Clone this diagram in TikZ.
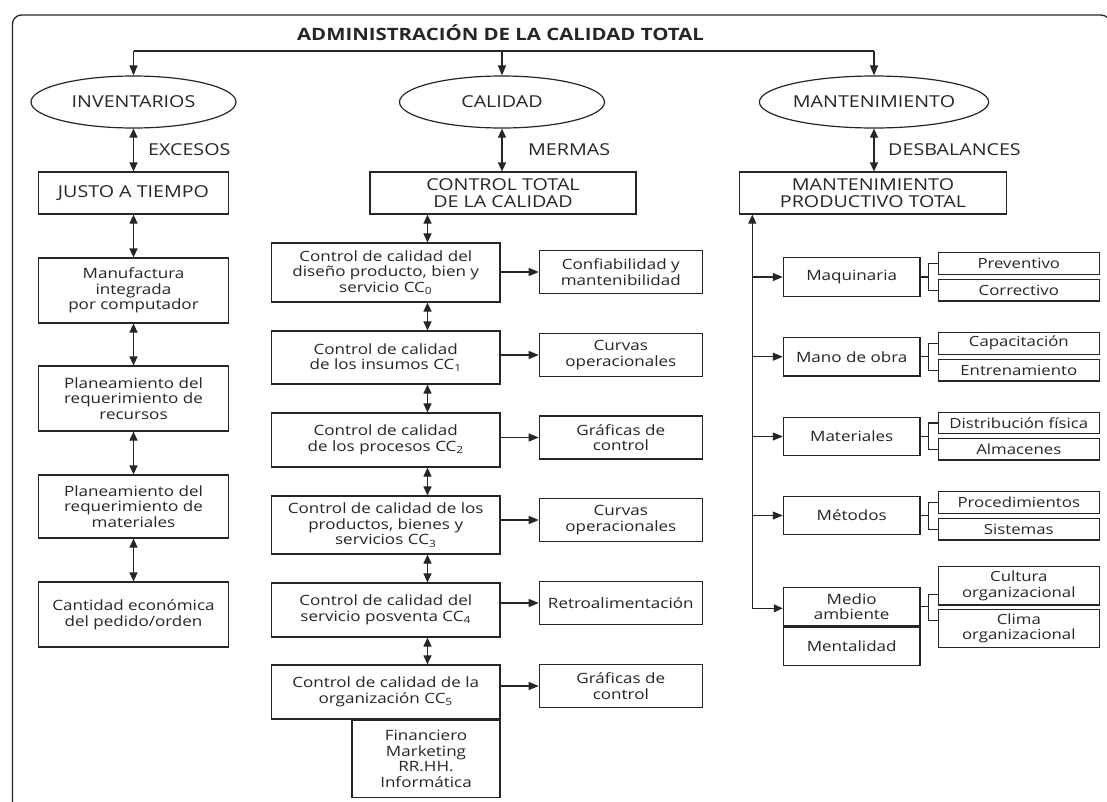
\documentclass[tikz,border=0pt]{standalone}
\usepackage{fontspec}
\setmainfont{Open Sans}[FakeStretch=1.2]
\usetikzlibrary{shapes.geometric,arrows.meta,calc}
\definecolor{ink}{RGB}{38,38,38}
\newcommand\bodyfont{\fontsize{14.2}{15.6}\selectfont}
\newcommand\capsfont{\fontsize{16.4}{17.5}\selectfont}
\newcommand\subfont{\fontsize{14}{15.2}\selectfont}
\newcommand\titlefont{\fontsize{17}{18}\selectfont\bfseries}
\tikzset{
  box/.style={draw=ink, line width=1.2pt, rectangle, inner sep=0pt, align=center, text=ink, font=\bodyfont},
  sz/.style 2 args={minimum width=#1, minimum height=#2},
  oval/.style={draw=ink, line width=1.2pt, ellipse, inner sep=0pt, minimum width=205pt, minimum height=52pt, font=\capsfont, text=ink},
  lbl/.style={inner sep=0pt, text=ink, font=\capsfont},
  link/.style={draw=ink, line width=1.2pt},
  tip/.style={-{Triangle[length=10pt,width=8pt]}},
  both/.style={{Triangle[length=9pt,width=8pt]}-{Triangle[length=9pt,width=8pt]}},
}
\begin{document}
\begin{tikzpicture}[x=1pt,y=-1pt]
\useasboundingbox (0,0) rectangle (1107,801);
\fill[white] (0,0) rectangle (1107,801);

% outer frame
\draw[ink, line width=1.3pt, rounded corners=9pt] (12.5,815) -- (12.5,15) -- (1110,15) -- (1110,815);

% title and top distribution line
\node[text=ink, font=\titlefont, inner sep=0pt] (title) at (500.5,33) {ADMINISTRACIÓN DE LA CALIDAD TOTAL};
\coordinate (tl) at (133.5,51);
\coordinate (tr) at (874,51);

% the three pillars
\node[oval] (inv) at (133.5,102) {INVENTARIOS};
\node[oval] (cal) at (502,102) {CALIDAD};
\node[oval] (man) at (874,102) {MANTENIMIENTO};

\draw[link] (tl) -- (tr);
\draw[link,tip] (tl) -- (inv.north);
\draw[link,tip] (cal.north |- tl) -- (cal.north);
\draw[link,tip] (tr) -- (man.north);

% first row of systems
\node[box, sz={190}{42}, font=\capsfont] (jat) at (133.5,193) {JUSTO A TIEMPO};
\node[box, sz={266}{42}, font=\capsfont] (ctc) at (503,193) {CONTROL TOTAL\\DE LA CALIDAD};
\node[box, sz={266.5}{42}, font=\capsfont] (mpt) at (873,193) {MANTENIMIENTO\\PRODUCTIVO TOTAL};

\draw[link,both] (inv.south) -- (jat.north);
\draw[link,both] (cal.south) -- (cal.south |- ctc.north);
\draw[link,both] (man.south) -- (man.south |- mpt.north);
\node[lbl, anchor=west] (exc) at (148,150) {EXCESOS};
\node[lbl, anchor=west] (mer) at (528,150) {MERMAS};
\node[lbl, anchor=west] (des) at (888,150) {DESBALANCES};

% inventory column
\node[box, sz={190}{65}] (mic) at (133.5,290.5) {Manufactura\\integrada\\por computador};
\node[box, sz={190}{65}] (prr) at (133.5,398.5) {Planeamiento del\\requerimiento de\\recursos};
\node[box, sz={190}{63}] (prm) at (133.5,506.5) {Planeamiento del\\requerimiento de\\materiales};
\node[box, sz={190}{65}] (cep) at (133.5,614.5) {Cantidad económica\\del pedido/orden};
\draw[link,both] (jat.south) -- (mic.north);
\draw[link,both] (mic.south) -- (prr.north);
\draw[link,both] (prr.south) -- (prm.north);
\draw[link,both] (prm.south) -- (cep.north);

% quality column
\node[box, sz={228.6}{59}] (cc0) at (385.7,272.5) {Control de calidad del\\diseño producto, bien y\\servicio CC\textsubscript{0}};
\node[box, sz={228.6}{53}] (cc1) at (385.7,357.5) {Control de calidad\\de los insumos CC\textsubscript{1}};
\node[box, sz={228.6}{54}] (cc2) at (385.7,440) {Control de calidad\\de los procesos CC\textsubscript{2}};
\node[box, sz={228.6}{58}] (cc3) at (385.7,525) {Control de calidad de los\\productos, bienes y\\servicios CC\textsubscript{3}};
\node[box, sz={228.6}{54}] (cc4) at (385.7,610) {Control de calidad del\\servicio posventa CC\textsubscript{4}};
\node[box, sz={228.6}{54}] (cc5) at (385.7,692) {Control de calidad de la\\organización CC\textsubscript{5}};
\node[box, sz={148}{77}, anchor=north east] (fin) at (cc5.south east) {Financiero\\Marketing\\RR.HH.\\Informática};

\coordinate (mx) at (427.5,0);
\draw[link,both] (ctc.south -| mx) -- (cc0.north -| mx);
\draw[link,both] (cc0.south -| mx) -- (cc1.north -| mx);
\draw[link,both] (cc1.south -| mx) -- (cc2.north -| mx);
\draw[link,both] (cc2.south -| mx) -- (cc3.north -| mx);
\draw[link,both] (cc3.south -| mx) -- (cc4.north -| mx);
\draw[link,both] (cc4.south -| mx) -- (cc5.north -| mx);

\node[box, sz={163}{43}] (q0) at (620.8,272) {Confiabilidad y\\mantenibilidad};
\node[box, sz={163}{43}] (q1) at (620.8,355) {Curvas\\operacionales};
\node[box, sz={163}{43}] (q2) at (620.8,437.5) {Gráficas de\\control};
\node[box, sz={163}{43}] (q3) at (620.8,520) {Curvas\\operacionales};
\node[box, sz={163}{43}] (q4) at (620.8,603) {Retroalimentación};
\node[box, sz={163}{43}] (q5) at (620.8,686) {Gráficas de\\control};
\draw[link,tip] (cc0.east |- q0.west) -- (q0.west);
\draw[link,tip] (cc1.east |- q1.west) -- (q1.west);
\draw[link,tip] (cc2.east |- q2.west) -- (q2.west);
\draw[link,tip] (cc3.east |- q3.west) -- (q3.west);
\draw[link,tip] (cc4.east |- q4.west) -- (q4.west);
\draw[link,tip] (cc5.east |- q5.west) -- (q5.west);

% maintenance column
\node[box, sz={136.7}{39}] (maq) at (851.7,277) {Maquinaria};
\node[box, sz={136.7}{38.7}] (mob) at (851.7,356.7) {Mano de obra};
\node[box, sz={136.7}{38.4}] (mat) at (851.7,436.5) {Materiales};
\node[box, sz={136.7}{37.6}] (met) at (851.7,515.5) {Métodos};
\node[box, sz={136.7}{38.7}] (med) at (851.7,606.7) {Medio\\ambiente};
\node[box, sz={136.7}{38}, anchor=north] (men) at (med.south) {Mentalidad};

\node[box, font=\subfont, sz={161}{21.6}] (prev) at (1018.8,263.5) {Preventivo};
\node[box, font=\subfont, sz={161}{21.6}] (corr) at (1018.8,290.2) {Correctivo};
\node[box, font=\subfont, sz={161}{21.6}] (capa) at (1018.8,343.3) {Capacitación};
\node[box, font=\subfont, sz={161}{21.6}] (entr) at (1018.8,370.2) {Entrenamiento};
\node[box, font=\subfont, sz={161}{21.6}] (dist) at (1018.8,422.9) {Distribución física};
\node[box, font=\subfont, sz={161}{21.6}] (alma) at (1018.8,449.2) {Almacenes};
\node[box, font=\subfont, sz={161}{21.6}] (proc) at (1018.8,502.5) {Procedimientos};
\node[box, font=\subfont, sz={161}{21.6}] (sist) at (1018.8,529.2) {Sistemas};
\node[box, font=\subfont, sz={161}{38.3}] (cult) at (1018.8,585.8) {Cultura\\organizacional};
\node[box, font=\subfont, sz={161}{38.4}] (clim) at (1018.8,628.5) {Clima\\organizacional};

\coordinate (tk) at (752.3,608.3);
\draw[link,both] (mpt.south -| tk) -- (tk) -- (tk -| med.west);
\draw[link,tip] (tk |- maq.west) -- (maq.west);
\draw[link,tip] (tk |- mob.west) -- (mob.west);
\draw[link,tip] (tk |- mat.west) -- (mat.west);
\draw[link,tip] (tk |- met.west) -- (met.west);

\coordinate (bk) at (928.3,0);
\draw[link] (maq.east) -- (maq.east -| bk);
\draw[link] (prev.west) -- (prev.west -| bk) -- (corr.west -| bk) -- (corr.west);
\draw[link] (mob.east) -- (mob.east -| bk);
\draw[link] (capa.west) -- (capa.west -| bk) -- (entr.west -| bk) -- (entr.west);
\draw[link] (mat.east) -- (mat.east -| bk);
\draw[link] (dist.west) -- (dist.west -| bk) -- (alma.west -| bk) -- (alma.west);
\draw[link] (met.east) -- (met.east -| bk);
\draw[link] (proc.west) -- (proc.west -| bk) -- (sist.west -| bk) -- (sist.west);
\coordinate (mb1) at (928.3,594.3);
\coordinate (mb2) at (928.3,620.7);
\draw[link] (med.east) -- (med.east -| bk);
\draw[link] (mb1 -| cult.west) -- (mb1) -- (mb2) -- (mb2 -| clim.west);
\end{tikzpicture}
\end{document}
